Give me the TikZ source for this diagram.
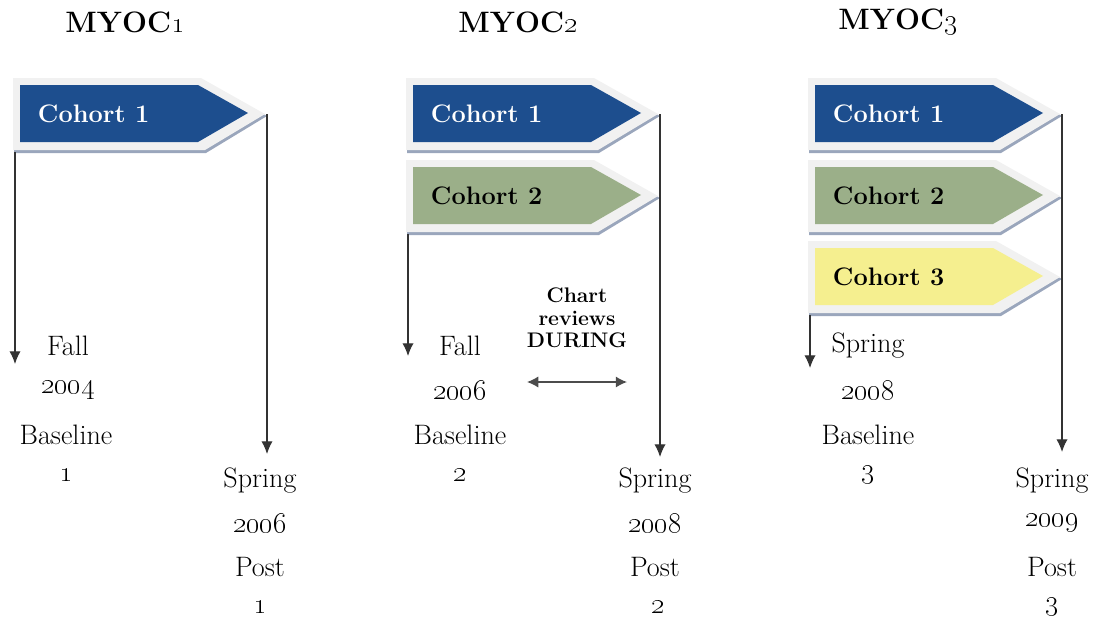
\documentclass[tikz,border=0pt]{standalone}
\usetikzlibrary{arrows.meta}
\definecolor{cohortblue}{HTML}{1D4E8E}
\definecolor{cohortgreen}{HTML}{9BAF89}
\definecolor{cohortyellow}{HTML}{F5EF8F}
\definecolor{framegray}{HTML}{F1F1F1}
\definecolor{shadowblue}{HTML}{9AA6BC}
\tikzset{
  title/.style={font=\fontsize{21}{24}\selectfont\bfseries},
  datetext/.style={font=\fontsize{20}{22}\selectfont},
  cohorttext/.style={font=\fontsize{18}{20}\selectfont\bfseries, anchor=west},
  reviewtext/.style={font=\fontsize{15}{17}\selectfont\bfseries},
  timeline/.style={draw=black!80, line width=0.9pt, -{Latex[length=9pt,width=8pt]}},
  during/.style={draw=black!70, line width=1pt, {Latex[length=8pt,width=8pt]}-{Latex[length=8pt,width=8pt]}},
}
%% one cohort flag: x, y, fill, text colour, number, name
\newcommand{\cohortflag}[6]{%
  \begin{scope}[shift={(#1,#2)}]
    \fill[shadowblue] (1,-33) -- (189,-33) -- (254,2) -- (193,39) -- (1,39) -- cycle;
    \fill[framegray] (0,-36) -- (188,-36) -- (252,0) -- (192,36) -- (0,36) -- cycle;
    \fill[#3] (7,-29) -- (185,-29) -- (235,-1) -- (185,28) -- (7,28) -- cycle;
    \node[cohorttext, text=#4] (#6) at (20,0) {Cohort #5};
    \coordinate (#6 tip) at (254,0);
    \coordinate (#6 foot) at (2,38);
  \end{scope}}
\newcommand{\osn}[1]{{\mdseries\oldstylenums{#1}}}
\begin{document}
\begin{tikzpicture}[x=0.025cm, y=-0.025cm]
  \useasboundingbox (0,0) rectangle (1097,619);

  %% titles
  \node[title] (myoc1) at (125,22) {MYOC\osn{1}};
  \node[title] (myoc2) at (518,22) {MYOC\osn{2}};
  \node[title] (myoc3) at (898,22) {MYOC\osn{3}};

  %% the flags
  \cohortflag{13}{114}{cohortblue}{white}{1}{a1}
  \cohortflag{406}{114}{cohortblue}{white}{1}{b1}
  \cohortflag{406}{196}{cohortgreen}{black}{2}{b2}
  \cohortflag{808}{114}{cohortblue}{white}{1}{c1}
  \cohortflag{808}{196}{cohortgreen}{black}{2}{c2}
  \cohortflag{808}{277}{cohortyellow}{black}{3}{c3}

  %%%%%%% MYOC1
  \node[datetext] (fall1) at (68,346) {Fall};
  \node[datetext] (year1) at (68,390) {\osn{2004}};
  \node[datetext] (base1) at (66,435) {Baseline};
  \node[datetext] (num1) at (66,475) {\osn{1}};
  \node[datetext] (spring1) at (260,481) {Spring};
  \node[datetext] (pyear1) at (260,523) {\osn{2006}};
  \node[datetext] (post1) at (260,567) {Post};
  \node[datetext] (pnum1) at (260,607) {\osn{1}};
  \coordinate (aend) at (a1 foot |- 0,364);
  \coordinate (apost) at (a1 tip |- 0,454);
  \draw[timeline] (a1 foot) -- (aend);
  \draw[timeline] (a1 tip) -- (apost);

  %%%%%%% MYOC2
  \node[datetext] (fall2) at (460,346) {Fall};
  \node[datetext] (year2) at (460,390) {\osn{2006}};
  \node[datetext] (base2) at (460,435) {Baseline};
  \node[datetext] (num2) at (460,475) {\osn{2}};
  \node[datetext] (spring2) at (655,481) {Spring};
  \node[datetext] (pyear2) at (655,523) {\osn{2008}};
  \node[datetext] (post2) at (655,567) {Post};
  \node[datetext] (pnum2) at (658,607) {\osn{2}};
  \node[reviewtext, align=center] (review) at (577,318) {Chart\\[-1pt] reviews\\[-1pt] DURING};
  \coordinate (bend) at (b2 foot |- 0,356);
  \coordinate (bpost) at (b1 tip |- 0,457);
  \coordinate (dleft) at (527,382);
  \coordinate (dright) at (627,382);
  \draw[timeline] (b2 foot) -- (bend);
  \draw[timeline] (b1 tip) -- (bpost);
  \draw[during] (dleft) -- (dright);

  %%%%%%% MYOC3
  \node[datetext] (spring3) at (868,346) {Spring};
  \node[datetext] (year3) at (868,390) {\osn{2008}};
  \node[datetext] (base3) at (868,435) {Baseline};
  \node[datetext] (num3) at (868,475) {\osn{3}};
  \node[datetext] (pspring3) at (1052,481) {Spring};
  \node[datetext] (pyear3) at (1052,523) {\osn{2009}};
  \node[datetext] (post3) at (1052,567) {Post};
  \node[datetext] (pnum3) at (1052,607) {\osn{3}};
  \coordinate (cend) at (c3 foot |- 0,368);
  \coordinate (cpost) at (c1 tip |- 0,452);
  \draw[timeline] (c3 foot) -- (cend);
  \draw[timeline] (c1 tip) -- (cpost);
\end{tikzpicture}
\end{document}
